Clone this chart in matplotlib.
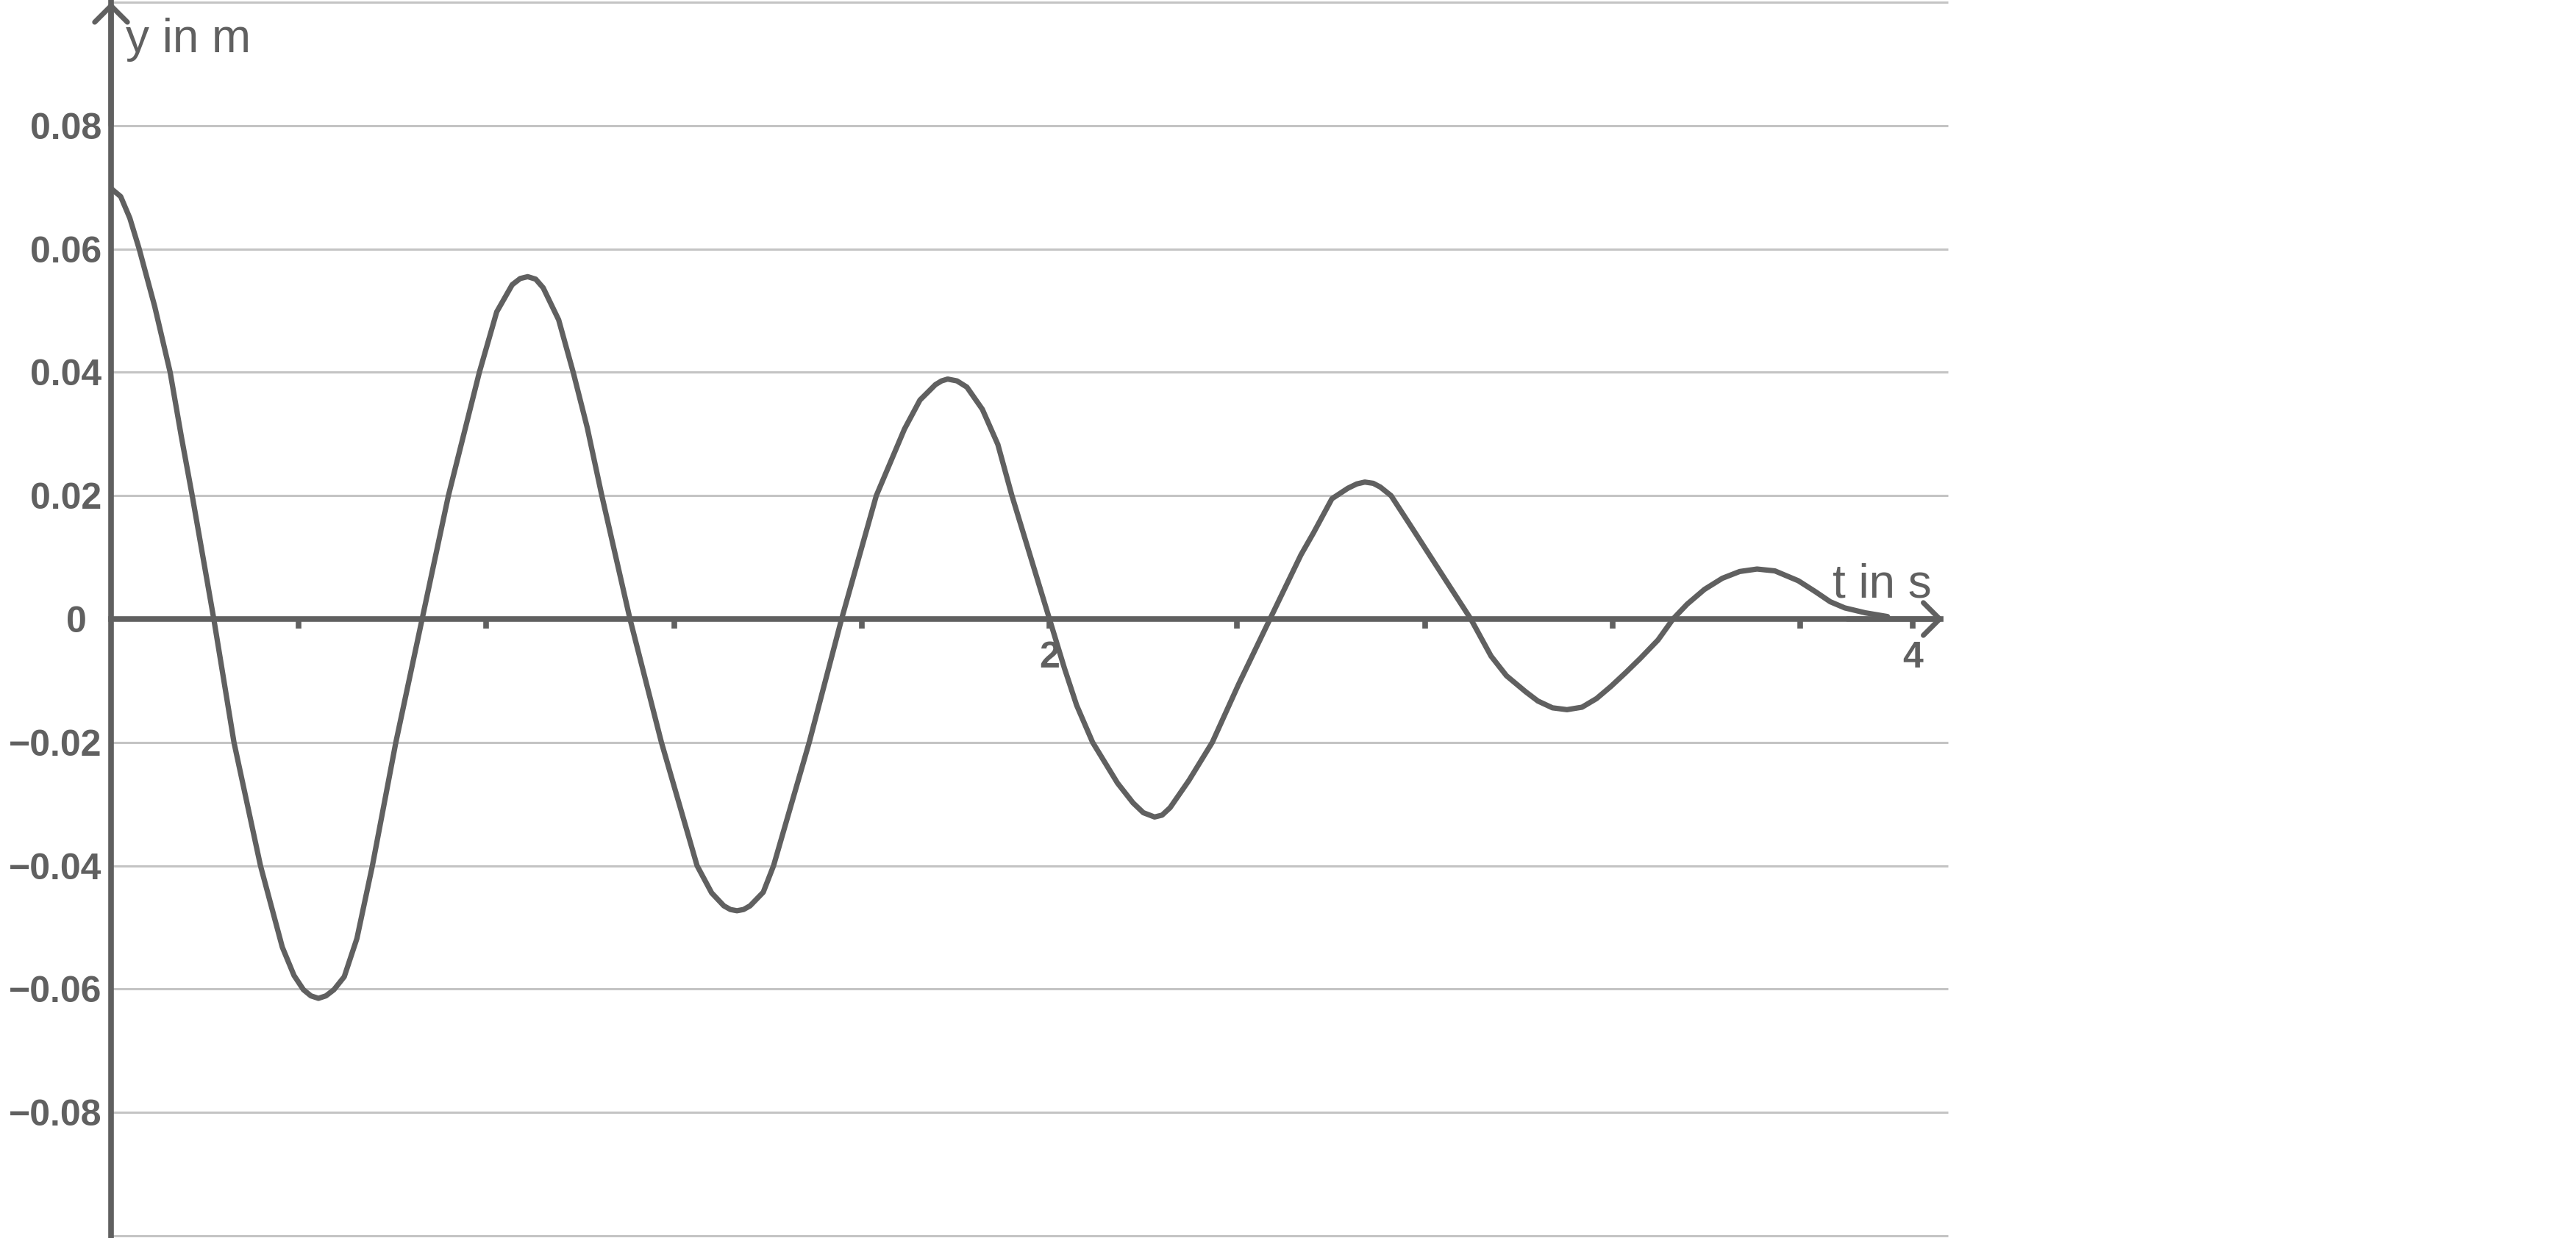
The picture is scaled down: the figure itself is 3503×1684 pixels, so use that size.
import numpy as np
import matplotlib.pyplot as plt
from matplotlib.transforms import ScaledTranslation

# values (t in s, y in m)
t_vals = [0.0, 0.0205, 0.04, 0.06, 0.093, 0.126, 0.15, 0.173, 0.219, 0.262,
          0.3185, 0.365, 0.39, 0.41, 0.426, 0.442, 0.458, 0.475, 0.497, 0.524,
          0.557, 0.607, 0.663, 0.719, 0.785, 0.822, 0.855, 0.872, 0.888, 0.905,
          0.921, 0.954, 0.985, 1.015, 1.046, 1.106, 1.173, 1.249, 1.28, 1.306,
          1.32, 1.334, 1.348, 1.362, 1.39, 1.412, 1.488, 1.557, 1.631, 1.691,
          1.724, 1.757, 1.77, 1.783, 1.803, 1.824, 1.857, 1.89, 1.92, 2.0,
          2.032, 2.058, 2.092, 2.145, 2.178, 2.2, 2.224, 2.24, 2.257, 2.297,
          2.347, 2.403, 2.47, 2.536, 2.563, 2.602, 2.636, 2.655, 2.672, 2.69,
          2.705, 2.728, 2.775, 2.841, 2.898, 2.941, 2.974, 3.015, 3.041, 3.072,
          3.103, 3.135, 3.166, 3.197, 3.228, 3.259, 3.297, 3.329, 3.359, 3.396,
          3.434, 3.471, 3.508, 3.546, 3.596, 3.633, 3.664, 3.695, 3.739, 3.786]
y_vals = [0.0698, 0.0685, 0.065, 0.06, 0.0507, 0.04, 0.0295, 0.02, 0.0, -0.02,
          -0.04, -0.0532, -0.0578, -0.0601, -0.0611, -0.0615, -0.0611, -0.0601, -0.058, -0.0518,
          -0.04, -0.02, 0.0, 0.02, 0.04, 0.0498, 0.0542, 0.0552, 0.0555, 0.0551,
          0.0537, 0.0485, 0.04, 0.031, 0.02, 0.0, -0.02, -0.04, -0.0444, -0.0465,
          -0.0471, -0.0473, -0.0471, -0.0465, -0.0443, -0.04, -0.02, 0.0, 0.02, 0.0308,
          0.0355, 0.038, 0.0386, 0.0389, 0.0386, 0.0376, 0.034, 0.0283, 0.02, 0.0,
          -0.008, -0.014, -0.02, -0.0266, -0.0298, -0.0314, -0.0321, -0.0318, -0.0306, -0.0262,
          -0.02, -0.0106, 0.0, 0.0104, 0.014, 0.0195, 0.0212, 0.0219, 0.0222, 0.022,
          0.0214, 0.02, 0.0145, 0.0067, 0.0, -0.006, -0.0092, -0.0118, -0.0133, -0.0144,
          -0.0147, -0.0143, -0.0129, -0.0109, -0.0087, -0.0064, -0.0034, 0.0, 0.0024, 0.0048,
          0.0066, 0.0077, 0.0081, 0.0078, 0.0062, 0.0044, 0.0028, 0.0018, 0.001, 0.0004]

xtick_pos = [0.4, 0.8, 1.2, 1.6, 2.0, 2.4, 2.8, 3.2, 3.6, 3.84]
xtick_labels = ['', '', '', '', '2', '', '', '', '', '4']
ytick_pos = [0.08, 0.06, 0.04, 0.02, 0.0, -0.02, -0.04, -0.06, -0.08]
ytick_labels = ['0.08', '0.06', '0.04', '0.02', '0', '\u22120.02', '\u22120.04', '\u22120.06', '\u22120.08']
grid_pos = [0.1, 0.08, 0.06, 0.04, 0.02, -0.02, -0.04, -0.06, -0.08, -0.1]

dark = '#606060'
grey = '#c4c4c4'
xmax = 3.915
ymin, ymax = -0.1, 0.1

plt.rcParams['font.family'] = ['Liberation Sans', 'DejaVu Sans']

fig = plt.figure(figsize=(35.03, 16.84), dpi=100)
ax = fig.add_axes([151 / 3503, 3 / 1684, 2498 / 3503, 1678 / 1684])
ax.set_xlim(0, xmax)
ax.set_ylim(ymin, ymax)

ax.hlines(grid_pos, 0, xmax, colors=grey, linewidth=2.2, zorder=1, clip_on=False)

ax.plot(t_vals, y_vals, color=dark, linewidth=5.2, zorder=4,
        solid_joinstyle='round', solid_capstyle='round')

for s in ['top', 'right']:
    ax.spines[s].set_visible(False)
ax.spines['left'].set_position(('data', 0))
ax.spines['bottom'].set_position(('data', 0))
for s in ['left', 'bottom']:
    ax.spines[s].set_linewidth(5.5)
    ax.spines[s].set_color(dark)
    ax.spines[s].set_zorder(3)
ax.spines['bottom'].set_bounds(0, 3.9)
ax.spines['left'].set_bounds(ymin - 0.01, ymax)

# arrow heads
ax.annotate('', xy=(3.905, 0), xytext=(3.7, 0), xycoords='data',
            arrowprops=dict(arrowstyle='->,head_length=0.8,head_width=0.8',
                            mutation_scale=20, lw=5.0, color=dark,
                            shrinkA=0, shrinkB=0), zorder=3, annotation_clip=False)
ax.annotate('', xy=(0, ymax), xytext=(0, 0.08), xycoords='data',
            arrowprops=dict(arrowstyle='->,head_length=0.8,head_width=0.8',
                            mutation_scale=20, lw=5.0, color=dark,
                            shrinkA=0, shrinkB=0), zorder=3, annotation_clip=False)

ax.set_xticks(xtick_pos, xtick_labels)
ax.set_yticks(ytick_pos, ytick_labels)
ax.tick_params(axis='x', direction='out', length=9.5, width=5.5, color=dark,
               pad=12, labelsize=36, labelcolor=dark)
ax.tick_params(axis='y', length=0, pad=9, labelsize=36, labelcolor=dark)
for lab in ax.get_xticklabels() + ax.get_yticklabels():
    lab.set_fontweight('bold')

# the "0" label sits a bit left of the others in the reference
zero_lab = ax.get_yticklabels()[ytick_pos.index(0.0)]
zero_lab.set_transform(zero_lab.get_transform() + ScaledTranslation(-0.21, 0, fig.dpi_scale_trans))

ax.text(0.031, 0.0919, 'y in m', fontsize=46, color=dark, ha='left', va='baseline')
ax.text(3.88, 0.00346, 't in s', fontsize=46, color=dark, ha='right', va='baseline')

fig.savefig('out.png', dpi=100, facecolor='white')
